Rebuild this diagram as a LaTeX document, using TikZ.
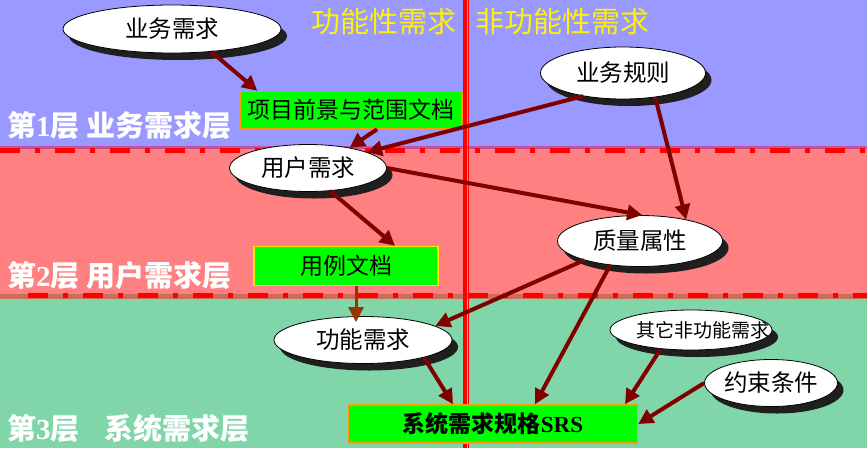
\documentclass[tikz,border=0pt]{standalone}
\usepackage{fontspec}
\setmainfont{Liberation Serif}
\newfontfamily\cjk{Noto Sans CJK SC}
\usepackage{xcolor}
\usetikzlibrary{shapes,arrows.meta,positioning,calc,shadows}

\definecolor{layerone}{RGB}{153,153,255}
\definecolor{layertwo}{RGB}{255,128,128}
\definecolor{layerthree}{RGB}{128,214,168}
\definecolor{edgeone}{RGB}{200,80,150}
\definecolor{edgetwo}{RGB}{200,110,90}
\definecolor{flowred}{RGB}{128,0,0}
\definecolor{flowbrown}{RGB}{153,51,0}
\definecolor{docgreen}{RGB}{0,255,0}
\definecolor{docedge}{RGB}{255,153,0}
\definecolor{sepred}{RGB}{255,0,0}

\tikzset{
  req/.style={ellipse,draw=black,line width=0.8pt,fill=white,inner sep=0pt,
    drop shadow={fill=black!88,opacity=1,shadow xshift=6pt,shadow yshift=-7pt},
    font=\cjk\fontsize{23.5}{26}\selectfont},
  doc/.style={rectangle,draw=docedge,line width=1.5pt,fill=docgreen,inner sep=0pt,
    font=\cjk\fontsize{23}{26}\selectfont},
  layer/.style={anchor=west,inner sep=0pt,text=white,font=\bfseries\fontsize{29}{32}\selectfont},
  side/.style={text=yellow,inner sep=0pt,font=\cjk\fontsize{29}{32}\selectfont},
  flow/.style={draw=flowred,line width=4pt,-{Triangle[length=15pt,width=15pt]}},
  sep/.style={sepred,line width=5pt,dash pattern=on 20pt off 15pt on 5pt off 15pt}
}

\begin{document}
\begin{tikzpicture}[x=1pt,y=-1pt]
  \useasboundingbox (0,0) rectangle (867,448);

  % Layers
  \fill[layerone] (0,0) rectangle (867,147);
  \fill[layertwo] (0,147) rectangle (867,296);
  \fill[layerthree] (0,296) rectangle (867,448);
  \fill[edgeone] (0,145.5) rectangle (867,148.5);
  \fill[edgetwo] (0,294) rectangle (867,298.5);
  \draw[sep] (0,150.5) -- (867,150.5);
  \draw[sep] (28,295) -- (867,295);

  % Functional / non-functional split
  \draw[sepred,line width=4pt] (464.7,0) -- (464.7,448);
  \draw[sepred,line width=1pt] (468.5,0) -- (468.5,448);
  \node[side] (fn) at (384,21) {功能性需求};
  \node[side] (nfn) at (562,21) {非功能性需求};

  % Layer names
  \node[layer] (l1) at (7,126) {\cjk 第{\rmfamily 1}层 业务需求层};
  \node[layer] (l2) at (7,276) {\cjk 第{\rmfamily 2}层 用户需求层};
  \node[layer] (l3) at (7,428) {\cjk 第{\rmfamily 3}层\hspace{25pt}系统需求层};

  % Requirements
  \node[req,minimum width=218pt,minimum height=48pt] (ywxq) at (172,29) {业务需求};
  \node[req,minimum width=165pt,minimum height=52pt] (ywgz) at (623,73) {业务规则};
  \node[req,minimum width=157pt,minimum height=47pt] (yhxq) at (308,168) {用户需求};
  \node[req,minimum width=165pt,minimum height=51pt] (zlsx) at (640,241) {质量属性};
  \node[req,minimum width=178pt,minimum height=47pt] (gnxq) at (363,340) {功能需求};
  \node[req,minimum width=162pt,minimum height=40pt,font=\cjk\fontsize{19}{22}\selectfont]
    (qtfgn) at (691,330) {\makebox[0pt]{\hspace{23pt}其它非功能需求}};
  \node[req,minimum width=129pt,minimum height=47pt] (yssj) at (771,383) {约束条件};

  % Documents
  \node[doc,minimum width=222pt,minimum height=37pt] (xmqj) at (351,110) {项目前景与范围文档};
  \node[doc,draw=yellow!85!orange,minimum width=184pt,minimum height=39pt] (ylwd) at (346,266) {用例文档};
  \node[doc,minimum width=289pt,minimum height=38pt,font=\cjk\bfseries\fontsize{23}{26}\selectfont]
    (srs) at (493,424) {系统需求规格{\rmfamily SRS}};

  % Flows
  \draw[flow] (ywxq.-30) -- ([xshift=18pt]xmqj.north west);
  \draw[flow] ([xshift=26pt]xmqj.south) -- (yhxq.26);
  \draw[flow] (ywgz.-150) -- (yhxq.15);
  \draw[flow] (ywgz.-37) -- (zlsx.25);
  \draw[flow] (yhxq.east) -- (zlsx.85);
  \draw[flow] (yhxq.-46) -- ([xshift=49pt]ylwd.north);
  \draw[flow,draw=flowbrown,line width=3pt,shorten >=-6pt] ([xshift=10pt]ylwd.south) -- ([xshift=-7pt]gnxq.north);
  \draw[flow] (zlsx.-161) -- (gnxq.11);
  \draw[flow] (zlsx.-141) -- ([xshift=42pt]srs.north);
  \draw[flow] (gnxq.-16) -- ([xshift=-40pt]srs.north);
  \draw[flow] (qtfgn.-148) -- ([xshift=132pt]srs.north);
  \draw[flow] (yssj.west) -- (srs.east);
\end{tikzpicture}
\end{document}
